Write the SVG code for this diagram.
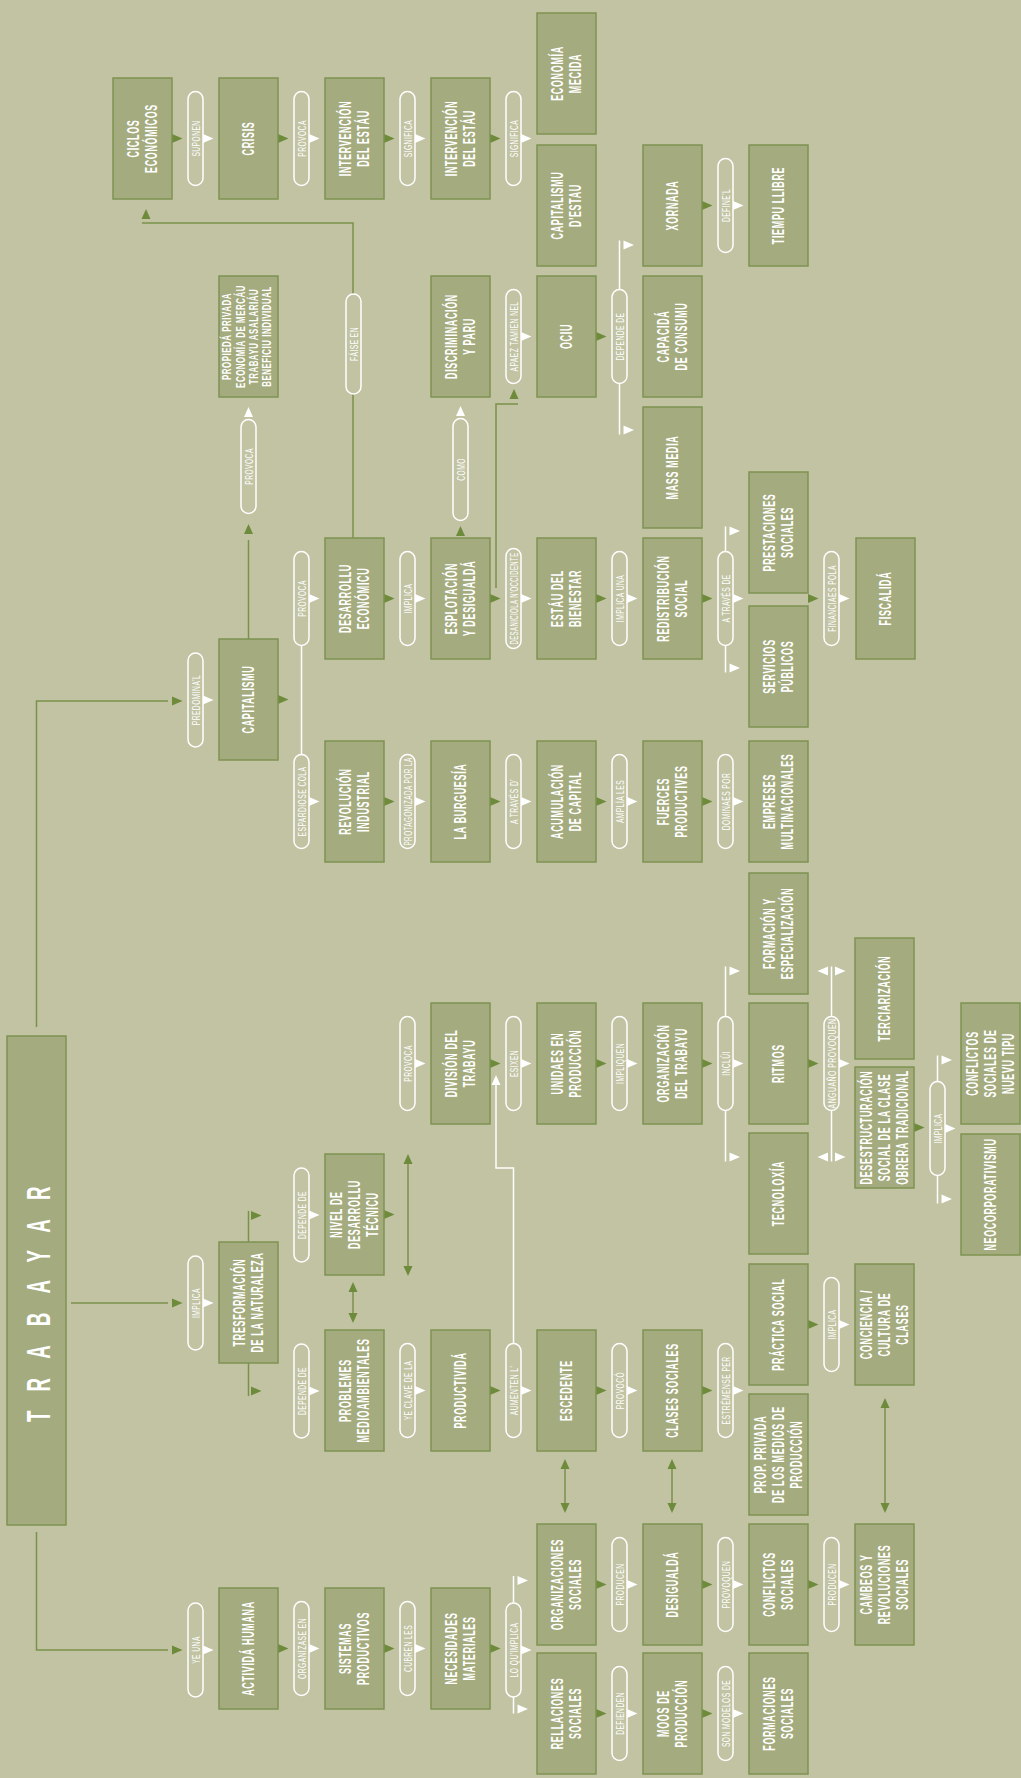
<svg xmlns="http://www.w3.org/2000/svg" width="1021" height="1778" viewBox="0 0 1021 1778">
<defs>
<style>
.bx{fill:#A4AB7E;stroke:#7E9352;stroke-width:1.5}
.bt{font-family:'Liberation Sans',Arial,sans-serif;font-weight:bold;font-size:16px;fill:#fff;letter-spacing:1.2px;text-anchor:middle}
.bs{font-size:12px;letter-spacing:0.8px}
.tt{font-family:'Liberation Sans',Arial,sans-serif;font-weight:bold;font-size:34px;fill:#fff}
.pl{fill:#C1C3A3;stroke:#fff;stroke-width:1.5}
.pt{font-family:'Liberation Sans',Arial,sans-serif;font-size:11.5px;fill:#fff;letter-spacing:0.8px;text-anchor:middle}
.gl{fill:none;stroke:#7B914B;stroke-width:1.5}
.wl{fill:none;stroke:#fff;stroke-width:1.5}
.gt{fill:#6E8B3B}
.wt{fill:#fff}
</style>
<path id="tr" d="M0,-4.5L10.5,0L0,4.5Z"/>
<path id="tl" d="M0,-4.5L-10.5,0L0,4.5Z"/>
<path id="tu" d="M-4.5,0L0,-10L4.5,0Z"/>
<path id="td" d="M-4.5,0L0,10L4.5,0Z"/>
</defs>
<rect x="0" y="0" width="1021" height="1778" fill="#C1C3A3"/>

<g id="connectors">
<g id="lines">
<path class="gl" d="M36.5,1027V701H168"/>
<path class="gl" d="M71,1303H168"/>
<path class="gl" d="M36.5,1532V1650H168"/>
<path class="gl" d="M248.5,639V540"/>
<path class="gl" d="M353,538V223H142"/>
<path class="gl" d="M496,588V404H518"/>
<path class="gl" d="M248.5,1242V1211"/>
<path class="gl" d="M248.5,1363V1396"/>
<path class="gl" d="M408,1164V1266"/>
<path class="gl" d="M353,1292V1313"/>
<path class="gl" d="M565,1469V1503"/>
<path class="gl" d="M672,1469V1503"/>
<path class="gl" d="M885,1408V1503"/>
<path class="wl" d="M301.5,646V755"/>
<path class="wl" d="M513.5,1344V1168H496V1085"/>
<path class="wl" d="M619.5,240.5V434.5"/>
<path class="wl" d="M725.5,526.5V672.5"/>
<path class="wl" d="M725.5,966.5V1161.5"/>
<path class="wl" d="M831.5,966.5V1161.5"/>
<path class="wl" d="M937.5,1055.5V1203.5"/>
<path class="wl" d="M513.5,1576V1713.5"/>
</g>
<g id="pills">
<rect class="pl" x="188" y="91.5" width="15" height="94" rx="7.5"/>
<rect class="pl" x="294" y="91.5" width="15" height="94" rx="7.5"/>
<rect class="pl" x="400" y="91.5" width="15" height="94" rx="7.5"/>
<rect class="pl" x="506" y="91.5" width="15" height="94" rx="7.5"/>
<rect class="pl" x="718" y="158.5" width="15" height="94" rx="7.5"/>
<rect class="pl" x="506" y="289.5" width="15" height="94" rx="7.5"/>
<rect class="pl" x="612" y="289.5" width="15" height="94" rx="7.5"/>
<rect class="pl" x="294" y="551.5" width="15" height="94" rx="7.5"/>
<rect class="pl" x="400" y="551.5" width="15" height="94" rx="7.5"/>
<rect class="pl" x="506" y="548.5" width="15" height="100" rx="7.5"/>
<rect class="pl" x="612" y="551.5" width="15" height="94" rx="7.5"/>
<rect class="pl" x="718" y="551.5" width="15" height="94" rx="7.5"/>
<rect class="pl" x="824" y="551.5" width="15" height="94" rx="7.5"/>
<rect class="pl" x="188" y="653" width="15" height="94" rx="7.5"/>
<rect class="pl" x="294" y="754.5" width="15" height="94" rx="7.5"/>
<rect class="pl" x="400" y="754.5" width="15" height="94" rx="7.5"/>
<rect class="pl" x="506" y="754.5" width="15" height="94" rx="7.5"/>
<rect class="pl" x="612" y="754.5" width="15" height="94" rx="7.5"/>
<rect class="pl" x="718" y="754.5" width="15" height="94" rx="7.5"/>
<rect class="pl" x="400" y="1016.5" width="15" height="94" rx="7.5"/>
<rect class="pl" x="506" y="1016.5" width="15" height="94" rx="7.5"/>
<rect class="pl" x="612" y="1016.5" width="15" height="94" rx="7.5"/>
<rect class="pl" x="718" y="1016.5" width="15" height="94" rx="7.5"/>
<rect class="pl" x="824" y="1016.5" width="15" height="94" rx="7.5"/>
<rect class="pl" x="930" y="1081.5" width="15" height="94" rx="7.5"/>
<rect class="pl" x="294" y="1168" width="15" height="94" rx="7.5"/>
<rect class="pl" x="188" y="1256" width="15" height="94" rx="7.5"/>
<rect class="pl" x="824" y="1277.5" width="15" height="94" rx="7.5"/>
<rect class="pl" x="294" y="1344" width="15" height="94" rx="7.5"/>
<rect class="pl" x="400" y="1343.5" width="15" height="94" rx="7.5"/>
<rect class="pl" x="506" y="1343.5" width="15" height="94" rx="7.5"/>
<rect class="pl" x="612" y="1343.5" width="15" height="94" rx="7.5"/>
<rect class="pl" x="718" y="1343.5" width="15" height="94" rx="7.5"/>
<rect class="pl" x="612" y="1537.5" width="15" height="94" rx="7.5"/>
<rect class="pl" x="718" y="1537.5" width="15" height="94" rx="7.5"/>
<rect class="pl" x="824" y="1537.5" width="15" height="94" rx="7.5"/>
<rect class="pl" x="188" y="1603" width="15" height="94" rx="7.5"/>
<rect class="pl" x="294" y="1601.5" width="15" height="94" rx="7.5"/>
<rect class="pl" x="400" y="1601.5" width="15" height="94" rx="7.5"/>
<rect class="pl" x="506" y="1603" width="15" height="94" rx="7.5"/>
<rect class="pl" x="612" y="1666.5" width="15" height="94" rx="7.5"/>
<rect class="pl" x="718" y="1666.5" width="15" height="94" rx="7.5"/>
<rect class="pl" x="241" y="419.5" width="15" height="94" rx="7.5"/>
<rect class="pl" x="453" y="418.5" width="15" height="102" rx="7.5"/>
<rect class="pl" x="346" y="294" width="15" height="100" rx="7.5"/>
</g>
<g id="labels">
<text class="pt" transform="translate(199.6,138.5) rotate(-90) scale(0.58,1)">SUPONEN</text>
<text class="pt" transform="translate(305.6,138.5) rotate(-90) scale(0.58,1)">PROVOCA</text>
<text class="pt" transform="translate(411.6,138.5) rotate(-90) scale(0.58,1)">SIGNIFICA</text>
<text class="pt" transform="translate(517.6,138.5) rotate(-90) scale(0.58,1)">SIGNIFICA</text>
<text class="pt" transform="translate(729.6,205.5) rotate(-90) scale(0.58,1)">DEFINE'L</text>
<text class="pt" transform="translate(517.6,336.5) rotate(-90) scale(0.58,1)">APAEZ TAMIEN NEL</text>
<text class="pt" transform="translate(623.6,336.5) rotate(-90) scale(0.58,1)">DEPENDE DE</text>
<text class="pt" transform="translate(305.6,598.5) rotate(-90) scale(0.58,1)">PROVOCA</text>
<text class="pt" transform="translate(411.6,598.5) rotate(-90) scale(0.58,1)">IMPLICA</text>
<text class="pt" transform="translate(517.6,598.5) rotate(-90) scale(0.58,1)" textLength="159" lengthAdjust="spacingAndGlyphs">DESANICIOLA N'OCCIDENTE</text>
<text class="pt" transform="translate(623.6,598.5) rotate(-90) scale(0.58,1)">IMPLICA UNA</text>
<text class="pt" transform="translate(729.6,598.5) rotate(-90) scale(0.58,1)">A TRAVÉS DE</text>
<text class="pt" transform="translate(835.6,598.5) rotate(-90) scale(0.58,1)">FINANCIAES POLA</text>
<text class="pt" transform="translate(199.6,700) rotate(-90) scale(0.58,1)">PREDOMINA'L</text>
<text class="pt" transform="translate(305.6,801.5) rotate(-90) scale(0.58,1)">ESPARDIOSE COLA</text>
<text class="pt" transform="translate(411.6,801.5) rotate(-90) scale(0.58,1)" textLength="152" lengthAdjust="spacingAndGlyphs">PROTAGONIZADA POR LA</text>
<text class="pt" transform="translate(517.6,801.5) rotate(-90) scale(0.58,1)">A TRAVÉS D'</text>
<text class="pt" transform="translate(623.6,801.5) rotate(-90) scale(0.58,1)">AMPLÍA LES</text>
<text class="pt" transform="translate(729.6,801.5) rotate(-90) scale(0.58,1)">DOMINAES POR</text>
<text class="pt" transform="translate(411.6,1063.5) rotate(-90) scale(0.58,1)">PROVOCA</text>
<text class="pt" transform="translate(517.6,1063.5) rotate(-90) scale(0.58,1)">ESIXEN</text>
<text class="pt" transform="translate(623.6,1063.5) rotate(-90) scale(0.58,1)">IMPLIQUEN</text>
<text class="pt" transform="translate(729.6,1063.5) rotate(-90) scale(0.58,1)">INCLÚI</text>
<text class="pt" transform="translate(835.6,1063.5) rotate(-90) scale(0.58,1)" textLength="155" lengthAdjust="spacingAndGlyphs">ANGUAÑO PROVOQUEN</text>
<text class="pt" transform="translate(941.6,1128.5) rotate(-90) scale(0.58,1)">IMPLICA</text>
<text class="pt" transform="translate(305.6,1215) rotate(-90) scale(0.58,1)">DEPENDE DE</text>
<text class="pt" transform="translate(199.6,1303) rotate(-90) scale(0.58,1)">IMPLICA</text>
<text class="pt" transform="translate(835.6,1324.5) rotate(-90) scale(0.58,1)">IMPLICA</text>
<text class="pt" transform="translate(305.6,1391) rotate(-90) scale(0.58,1)">DEPENDE DE</text>
<text class="pt" transform="translate(411.6,1390.5) rotate(-90) scale(0.58,1)">YE CLAVE DE LA</text>
<text class="pt" transform="translate(517.6,1390.5) rotate(-90) scale(0.58,1)">AUMENTEN L'</text>
<text class="pt" transform="translate(623.6,1390.5) rotate(-90) scale(0.58,1)">PROVOCÓ</text>
<text class="pt" transform="translate(729.6,1390.5) rotate(-90) scale(0.58,1)">ESTRÉMENSE PER</text>
<text class="pt" transform="translate(623.6,1584.5) rotate(-90) scale(0.58,1)">PRODUCEN</text>
<text class="pt" transform="translate(729.6,1584.5) rotate(-90) scale(0.58,1)">PROVOQUEN</text>
<text class="pt" transform="translate(835.6,1584.5) rotate(-90) scale(0.58,1)">PRODUCEN</text>
<text class="pt" transform="translate(199.6,1650) rotate(-90) scale(0.58,1)">YE UNA</text>
<text class="pt" transform="translate(305.6,1648.5) rotate(-90) scale(0.58,1)">ORGANÍZASE EN</text>
<text class="pt" transform="translate(411.6,1648.5) rotate(-90) scale(0.58,1)">CUBREN LES</text>
<text class="pt" transform="translate(517.6,1650) rotate(-90) scale(0.58,1)">LO QU'IMPLICA</text>
<text class="pt" transform="translate(623.6,1713.5) rotate(-90) scale(0.58,1)">DEFIENDEN</text>
<text class="pt" transform="translate(729.6,1713.5) rotate(-90) scale(0.58,1)">SON MODELOS DE</text>
<text class="pt" transform="translate(252.6,466.5) rotate(-90) scale(0.58,1)">PROVOCA</text>
<text class="pt" transform="translate(464.6,469.5) rotate(-90) scale(0.58,1)">COMO</text>
<text class="pt" transform="translate(357.6,344) rotate(-90) scale(0.58,1)">FÁISE EN</text>
</g>
<g id="arrowheads">
<use href="#tr" class="gt" x="172" y="138.5"/>
<use href="#tr" class="gt" x="278" y="138.5"/>
<use href="#tr" class="gt" x="384" y="138.5"/>
<use href="#tr" class="gt" x="490" y="138.5"/>
<use href="#tr" class="gt" x="702" y="205.5"/>
<use href="#tr" class="gt" x="596" y="336.5"/>
<use href="#tr" class="gt" x="384" y="598.5"/>
<use href="#tr" class="gt" x="490" y="598.5"/>
<use href="#tr" class="gt" x="596" y="598.5"/>
<use href="#tr" class="gt" x="702" y="598.5"/>
<use href="#tr" class="gt" x="808" y="598.5"/>
<use href="#tr" class="gt" x="278" y="699.5"/>
<use href="#tr" class="gt" x="172" y="701"/>
<use href="#tr" class="gt" x="384" y="801.5"/>
<use href="#tr" class="gt" x="490" y="801.5"/>
<use href="#tr" class="gt" x="596" y="801.5"/>
<use href="#tr" class="gt" x="702" y="801.5"/>
<use href="#tr" class="gt" x="490" y="1063.5"/>
<use href="#tr" class="gt" x="596" y="1063.5"/>
<use href="#tr" class="gt" x="702" y="1063.5"/>
<use href="#tr" class="gt" x="808" y="1063.5"/>
<use href="#tr" class="gt" x="914" y="1127.5"/>
<use href="#tr" class="gt" x="384" y="1214.5"/>
<use href="#tr" class="gt" x="172" y="1303"/>
<use href="#tr" class="gt" x="490" y="1390.5"/>
<use href="#tr" class="gt" x="596" y="1390.5"/>
<use href="#tr" class="gt" x="702" y="1390.5"/>
<use href="#tr" class="gt" x="808" y="1324.5"/>
<use href="#tr" class="gt" x="172" y="1650"/>
<use href="#tr" class="gt" x="278" y="1648.5"/>
<use href="#tr" class="gt" x="384" y="1648.5"/>
<use href="#tr" class="gt" x="490" y="1648.5"/>
<use href="#tr" class="gt" x="596" y="1584.5"/>
<use href="#tr" class="gt" x="702" y="1584.5"/>
<use href="#tr" class="gt" x="808" y="1584.5"/>
<use href="#tr" class="gt" x="596" y="1713.5"/>
<use href="#tr" class="gt" x="702" y="1713.5"/>
<use href="#tr" class="gt" x="251" y="1215.5"/>
<use href="#tr" class="gt" x="251" y="1391"/>
<use href="#tu" class="gt" x="248.5" y="534"/>
<use href="#tu" class="gt" x="146" y="219"/>
<use href="#tu" class="gt" x="514" y="399"/>
<use href="#tu" class="gt" x="460.5" y="536"/>
<use href="#tu" class="gt" x="408" y="1164"/>
<use href="#td" class="gt" x="408" y="1266"/>
<use href="#tu" class="gt" x="353" y="1292"/>
<use href="#td" class="gt" x="353" y="1313"/>
<use href="#tu" class="gt" x="565" y="1469"/>
<use href="#td" class="gt" x="565" y="1503"/>
<use href="#tu" class="gt" x="672" y="1469"/>
<use href="#td" class="gt" x="672" y="1503"/>
<use href="#tu" class="gt" x="885" y="1408"/>
<use href="#td" class="gt" x="885" y="1503"/>

<use href="#tr" class="wt" x="203" y="138.5"/>
<use href="#tr" class="wt" x="309" y="138.5"/>
<use href="#tr" class="wt" x="415" y="138.5"/>
<use href="#tr" class="wt" x="521" y="138.5"/>
<use href="#tr" class="wt" x="733" y="205.5"/>
<use href="#tr" class="wt" x="521" y="336.5"/>
<use href="#tr" class="wt" x="623.5" y="245"/>
<use href="#tr" class="wt" x="623.5" y="430"/>
<use href="#tr" class="wt" x="309" y="598.5"/>
<use href="#tr" class="wt" x="415" y="598.5"/>
<use href="#tr" class="wt" x="521" y="598.5"/>
<use href="#tr" class="wt" x="627" y="598.5"/>
<use href="#tr" class="wt" x="733" y="598.5"/>
<use href="#tr" class="wt" x="729.5" y="531"/>
<use href="#tr" class="wt" x="729.5" y="668"/>
<use href="#tr" class="wt" x="839" y="598.5"/>
<use href="#tr" class="wt" x="203" y="700"/>
<use href="#tr" class="wt" x="309" y="801.5"/>
<use href="#tr" class="wt" x="415" y="801.5"/>
<use href="#tr" class="wt" x="521" y="801.5"/>
<use href="#tr" class="wt" x="627" y="801.5"/>
<use href="#tr" class="wt" x="733" y="801.5"/>
<use href="#tr" class="wt" x="415" y="1063.5"/>
<use href="#tr" class="wt" x="521" y="1063.5"/>
<use href="#tr" class="wt" x="627" y="1063.5"/>
<use href="#tr" class="wt" x="733" y="1063.5"/>
<use href="#tr" class="wt" x="729.5" y="971"/>
<use href="#tr" class="wt" x="729.5" y="1157"/>
<use href="#tr" class="wt" x="839" y="1063.5"/>
<use href="#tr" class="wt" x="835" y="971"/>
<use href="#tr" class="wt" x="835" y="1157"/>
<use href="#tl" class="wt" x="828" y="971"/>
<use href="#tl" class="wt" x="828" y="1157"/>
<use href="#tr" class="wt" x="945" y="1128.5"/>
<use href="#tr" class="wt" x="941.5" y="1060"/>
<use href="#tr" class="wt" x="941.5" y="1199"/>
<use href="#tr" class="wt" x="309" y="1215"/>
<use href="#tr" class="wt" x="203" y="1303"/>
<use href="#tr" class="wt" x="839" y="1324.5"/>
<use href="#tr" class="wt" x="309" y="1391"/>
<use href="#tr" class="wt" x="415" y="1390.5"/>
<use href="#tr" class="wt" x="521" y="1390.5"/>
<use href="#tr" class="wt" x="627" y="1390.5"/>
<use href="#tr" class="wt" x="733" y="1390.5"/>
<use href="#tr" class="wt" x="627" y="1584.5"/>
<use href="#tr" class="wt" x="733" y="1584.5"/>
<use href="#tr" class="wt" x="839" y="1584.5"/>
<use href="#tr" class="wt" x="203" y="1650"/>
<use href="#tr" class="wt" x="309" y="1648.5"/>
<use href="#tr" class="wt" x="415" y="1648.5"/>
<use href="#tr" class="wt" x="521" y="1650"/>
<use href="#tr" class="wt" x="517.5" y="1580.5"/>
<use href="#tr" class="wt" x="517.5" y="1709"/>
<use href="#tr" class="wt" x="627" y="1713.5"/>
<use href="#tr" class="wt" x="733" y="1713.5"/>
<use href="#tu" class="wt" x="248.5" y="417"/>
<use href="#tu" class="wt" x="460.5" y="416"/>
<use href="#tu" class="wt" x="496" y="1085"/>
</g>
</g>

<g id="nodes">
<g id="n_trabayar"><rect class="bx" x="7" y="1036" width="59" height="489"/><text class="tt" transform="translate(49.7,1422) rotate(-90) scale(0.55,1)" letter-spacing="34.8">TRABAYAR</text></g>
<g id="n_ciclos"><rect class="bx" x="113" y="78" width="59" height="121"/><text class="bt" transform="translate(142.5,138.5) rotate(-90) scale(0.56,1)"><tspan x="0" y="-3.3">CICLOS</tspan><tspan x="0" y="14.7">ECONÓMICOS</tspan></text></g>
<g id="n_crisis"><rect class="bx" x="219" y="78" width="59" height="121"/><text class="bt" transform="translate(248.5,138.5) rotate(-90) scale(0.56,1)"><tspan x="0" y="5.7">CRISIS</tspan></text></g>
<g id="n_interv1"><rect class="bx" x="325" y="78" width="59" height="121"/><text class="bt" transform="translate(354.5,138.5) rotate(-90) scale(0.56,1)"><tspan x="0" y="-3.3">INTERVENCIÓN</tspan><tspan x="0" y="14.7">DEL ESTÁU</tspan></text></g>
<g id="n_interv2"><rect class="bx" x="431" y="78" width="59" height="121"/><text class="bt" transform="translate(460.5,138.5) rotate(-90) scale(0.56,1)"><tspan x="0" y="-3.3">INTERVENCIÓN</tspan><tspan x="0" y="14.7">DEL ESTÁU</tspan></text></g>
<g id="n_economia"><rect class="bx" x="537" y="13" width="59" height="121"/><text class="bt" transform="translate(566.5,73.5) rotate(-90) scale(0.56,1)"><tspan x="0" y="-3.3">ECONOMÍA</tspan><tspan x="0" y="14.7">MECIDA</tspan></text></g>
<g id="n_capestau"><rect class="bx" x="537" y="145" width="59" height="121"/><text class="bt" transform="translate(566.5,205.5) rotate(-90) scale(0.56,1)"><tspan x="0" y="-3.3">CAPITALISMU</tspan><tspan x="0" y="14.7">D'ESTAU</tspan></text></g>
<g id="n_xornada"><rect class="bx" x="643" y="145" width="59" height="121"/><text class="bt" transform="translate(672.5,205.5) rotate(-90) scale(0.56,1)"><tspan x="0" y="5.7">XORNADA</tspan></text></g>
<g id="n_tiempu"><rect class="bx" x="749" y="145" width="59" height="121"/><text class="bt" transform="translate(778.5,205.5) rotate(-90) scale(0.56,1)"><tspan x="0" y="5.7">TIEMPU LLIBRE</tspan></text></g>
<g id="n_propieda"><rect class="bx" x="219" y="276" width="59" height="121"/><text class="bt bs" transform="translate(248.5,336.5) rotate(-90) scale(0.66,1)"><tspan x="0" y="-17.2">PROPIEDÁ PRIVADA</tspan><tspan x="0" y="-3.9">ECONOMÍA DE MERCÁU</tspan><tspan x="0" y="9.5">TRABAYU ASALARIÁU</tspan><tspan x="0" y="22.8">BENEFICIU INDIVIDUAL</tspan></text></g>
<g id="n_discrim"><rect class="bx" x="431" y="276" width="59" height="121"/><text class="bt" transform="translate(460.5,336.5) rotate(-90) scale(0.56,1)"><tspan x="0" y="-3.3">DISCRIMINACIÓN</tspan><tspan x="0" y="14.7">Y PARU</tspan></text></g>
<g id="n_ociu"><rect class="bx" x="537" y="276" width="59" height="121"/><text class="bt" transform="translate(566.5,336.5) rotate(-90) scale(0.56,1)"><tspan x="0" y="5.7">OCIU</tspan></text></g>
<g id="n_capacida"><rect class="bx" x="643" y="276" width="59" height="121"/><text class="bt" transform="translate(672.5,336.5) rotate(-90) scale(0.56,1)"><tspan x="0" y="-3.3">CAPACIDÁ</tspan><tspan x="0" y="14.7">DE CONSUMU</tspan></text></g>
<g id="n_massmedia"><rect class="bx" x="643" y="407" width="59" height="121"/><text class="bt" transform="translate(672.5,467.5) rotate(-90) scale(0.56,1)"><tspan x="0" y="5.7">MASS MEDIA</tspan></text></g>
<g id="n_prestaciones"><rect class="bx" x="749" y="472" width="59" height="121"/><text class="bt" transform="translate(778.5,532.5) rotate(-90) scale(0.56,1)"><tspan x="0" y="-3.3">PRESTACIONES</tspan><tspan x="0" y="14.7">SOCIALES</tspan></text></g>
<g id="n_desarrollu"><rect class="bx" x="325" y="538" width="59" height="121"/><text class="bt" transform="translate(354.5,598.5) rotate(-90) scale(0.56,1)"><tspan x="0" y="-3.3">DESARROLLU</tspan><tspan x="0" y="14.7">ECONÓMICU</tspan></text></g>
<g id="n_esplotacion"><rect class="bx" x="431" y="538" width="59" height="121"/><text class="bt" transform="translate(460.5,598.5) rotate(-90) scale(0.56,1)"><tspan x="0" y="-3.3">ESPLOTACIÓN</tspan><tspan x="0" y="14.7">Y DESIGUALDÁ</tspan></text></g>
<g id="n_estau"><rect class="bx" x="537" y="538" width="59" height="121"/><text class="bt" transform="translate(566.5,598.5) rotate(-90) scale(0.56,1)"><tspan x="0" y="-3.3">ESTÁU DEL</tspan><tspan x="0" y="14.7">BIENESTAR</tspan></text></g>
<g id="n_redistribucion"><rect class="bx" x="643" y="538" width="59" height="121"/><text class="bt" transform="translate(672.5,598.5) rotate(-90) scale(0.56,1)"><tspan x="0" y="-3.3">REDISTRIBUCIÓN</tspan><tspan x="0" y="14.7">SOCIAL</tspan></text></g>
<g id="n_fiscalida"><rect class="bx" x="856" y="538" width="59" height="121"/><text class="bt" transform="translate(885.5,598.5) rotate(-90) scale(0.56,1)"><tspan x="0" y="5.7">FISCALIDÁ</tspan></text></g>
<g id="n_servicios"><rect class="bx" x="749" y="606" width="59" height="121"/><text class="bt" transform="translate(778.5,666.5) rotate(-90) scale(0.56,1)"><tspan x="0" y="-3.3">SERVICIOS</tspan><tspan x="0" y="14.7">PÚBLICOS</tspan></text></g>
<g id="n_capitalismu"><rect class="bx" x="219" y="639" width="59" height="121"/><text class="bt" transform="translate(248.5,699.5) rotate(-90) scale(0.56,1)"><tspan x="0" y="5.7">CAPITALISMU</tspan></text></g>
<g id="n_revolucion"><rect class="bx" x="325" y="741" width="59" height="121"/><text class="bt" transform="translate(354.5,801.5) rotate(-90) scale(0.56,1)"><tspan x="0" y="-3.3">REVOLUCIÓN</tspan><tspan x="0" y="14.7">INDUSTRIAL</tspan></text></g>
<g id="n_burguesia"><rect class="bx" x="431" y="741" width="59" height="121"/><text class="bt" transform="translate(460.5,801.5) rotate(-90) scale(0.56,1)"><tspan x="0" y="5.7">LA BURGUESÍA</tspan></text></g>
<g id="n_acumulacion"><rect class="bx" x="537" y="741" width="59" height="121"/><text class="bt" transform="translate(566.5,801.5) rotate(-90) scale(0.56,1)"><tspan x="0" y="-3.3">ACUMULACIÓN</tspan><tspan x="0" y="14.7">DE CAPITAL</tspan></text></g>
<g id="n_fuerces"><rect class="bx" x="643" y="741" width="59" height="121"/><text class="bt" transform="translate(672.5,801.5) rotate(-90) scale(0.56,1)"><tspan x="0" y="-3.3">FUERCES</tspan><tspan x="0" y="14.7">PRODUCTIVES</tspan></text></g>
<g id="n_empreses"><rect class="bx" x="749" y="741" width="59" height="121"/><text class="bt" transform="translate(778.5,801.5) rotate(-90) scale(0.56,1)"><tspan x="0" y="-3.3">EMPRESES</tspan><tspan x="0" y="14.7">MULTINACIONALES</tspan></text></g>
<g id="n_formacion"><rect class="bx" x="749" y="873" width="59" height="121"/><text class="bt" transform="translate(778.5,933.5) rotate(-90) scale(0.56,1)"><tspan x="0" y="-3.3">FORMACIÓN Y</tspan><tspan x="0" y="14.7">ESPECIALIZACIÓN</tspan></text></g>
<g id="n_terciarizacion"><rect class="bx" x="855" y="938" width="59" height="121"/><text class="bt" transform="translate(884.5,998.5) rotate(-90) scale(0.56,1)"><tspan x="0" y="5.7">TERCIARIZACIÓN</tspan></text></g>
<g id="n_division"><rect class="bx" x="431" y="1003" width="59" height="121"/><text class="bt" transform="translate(460.5,1063.5) rotate(-90) scale(0.56,1)"><tspan x="0" y="-3.3">DIVISIÓN DEL</tspan><tspan x="0" y="14.7">TRABAYU</tspan></text></g>
<g id="n_unidaes"><rect class="bx" x="537" y="1003" width="59" height="121"/><text class="bt" transform="translate(566.5,1063.5) rotate(-90) scale(0.56,1)"><tspan x="0" y="-3.3">UNIDAES EN</tspan><tspan x="0" y="14.7">PRODUCCIÓN</tspan></text></g>
<g id="n_organizacion"><rect class="bx" x="643" y="1003" width="59" height="121"/><text class="bt" transform="translate(672.5,1063.5) rotate(-90) scale(0.56,1)"><tspan x="0" y="-3.3">ORGANIZACIÓN</tspan><tspan x="0" y="14.7">DEL TRABAYU</tspan></text></g>
<g id="n_ritmos"><rect class="bx" x="749" y="1003" width="59" height="121"/><text class="bt" transform="translate(778.5,1063.5) rotate(-90) scale(0.56,1)"><tspan x="0" y="5.7">RITMOS</tspan></text></g>
<g id="n_conflnuevu"><rect class="bx" x="961" y="1003" width="59" height="121"/><text class="bt" transform="translate(990.5,1063.5) rotate(-90) scale(0.56,1)"><tspan x="0" y="-12.3">CONFLICTOS</tspan><tspan x="0" y="5.7">SOCIALES DE</tspan><tspan x="0" y="23.7">NUEVU TIPU</tspan></text></g>
<g id="n_desestructuracion"><rect class="bx" x="855" y="1067" width="59" height="121"/><text class="bt" transform="translate(884.5,1127.5) rotate(-90) scale(0.56,1)"><tspan x="0" y="-12.3">DESESTRUCTURACIÓN</tspan><tspan x="0" y="5.7">SOCIAL DE LA CLASE</tspan><tspan x="0" y="23.7">OBRERA TRADICIONAL</tspan></text></g>
<g id="n_tecnoloxia"><rect class="bx" x="749" y="1133" width="59" height="121"/><text class="bt" transform="translate(778.5,1193.5) rotate(-90) scale(0.56,1)"><tspan x="0" y="5.7">TECNOLOXÍA</tspan></text></g>
<g id="n_neocorp"><rect class="bx" x="961" y="1134" width="59" height="121"/><text class="bt" transform="translate(990.5,1194.5) rotate(-90) scale(0.56,1)"><tspan x="0" y="5.7">NEOCORPORATIVISMU</tspan></text></g>
<g id="n_nivel"><rect class="bx" x="325" y="1154" width="59" height="121"/><text class="bt" transform="translate(354.5,1214.5) rotate(-90) scale(0.56,1)"><tspan x="0" y="-12.3">NIVEL DE</tspan><tspan x="0" y="5.7">DESARROLLU</tspan><tspan x="0" y="23.7">TÉCNICU</tspan></text></g>
<g id="n_tresformacion"><rect class="bx" x="219" y="1242" width="59" height="121"/><text class="bt" transform="translate(248.5,1302.5) rotate(-90) scale(0.56,1)"><tspan x="0" y="-3.3">TRESFORMACIÓN</tspan><tspan x="0" y="14.7">DE LA NATURALEZA</tspan></text></g>
<g id="n_practica"><rect class="bx" x="749" y="1264" width="59" height="121"/><text class="bt" transform="translate(778.5,1324.5) rotate(-90) scale(0.56,1)"><tspan x="0" y="5.7">PRÁCTICA SOCIAL</tspan></text></g>
<g id="n_conciencia"><rect class="bx" x="855" y="1264" width="59" height="121"/><text class="bt" transform="translate(884.5,1324.5) rotate(-90) scale(0.56,1)"><tspan x="0" y="-12.3">CONCIENCIA /</tspan><tspan x="0" y="5.7">CULTURA DE</tspan><tspan x="0" y="23.7">CLASES</tspan></text></g>
<g id="n_problemes"><rect class="bx" x="325" y="1330" width="59" height="121"/><text class="bt" transform="translate(354.5,1390.5) rotate(-90) scale(0.56,1)"><tspan x="0" y="-3.3">PROBLEMES</tspan><tspan x="0" y="14.7">MEDIOAMBIENTALES</tspan></text></g>
<g id="n_productivida"><rect class="bx" x="431" y="1330" width="59" height="121"/><text class="bt" transform="translate(460.5,1390.5) rotate(-90) scale(0.56,1)"><tspan x="0" y="5.7">PRODUCTIVIDÁ</tspan></text></g>
<g id="n_escedente"><rect class="bx" x="537" y="1330" width="59" height="121"/><text class="bt" transform="translate(566.5,1390.5) rotate(-90) scale(0.56,1)"><tspan x="0" y="5.7">ESCEDENTE</tspan></text></g>
<g id="n_clases"><rect class="bx" x="643" y="1330" width="59" height="121"/><text class="bt" transform="translate(672.5,1390.5) rotate(-90) scale(0.56,1)"><tspan x="0" y="5.7">CLASES SOCIALES</tspan></text></g>
<g id="n_propprivada"><rect class="bx" x="749" y="1394" width="59" height="121"/><text class="bt" transform="translate(778.5,1454.5) rotate(-90) scale(0.56,1)"><tspan x="0" y="-12.3">PROP. PRIVADA</tspan><tspan x="0" y="5.7">DE LOS MEDIOS DE</tspan><tspan x="0" y="23.7">PRODUCCIÓN</tspan></text></g>
<g id="n_organizaciones"><rect class="bx" x="537" y="1524" width="59" height="121"/><text class="bt" transform="translate(566.5,1584.5) rotate(-90) scale(0.56,1)"><tspan x="0" y="-3.3">ORGANIZACIONES</tspan><tspan x="0" y="14.7">SOCIALES</tspan></text></g>
<g id="n_desigualda"><rect class="bx" x="643" y="1524" width="59" height="121"/><text class="bt" transform="translate(672.5,1584.5) rotate(-90) scale(0.56,1)"><tspan x="0" y="5.7">DESIGUALDÁ</tspan></text></g>
<g id="n_conflictos"><rect class="bx" x="749" y="1524" width="59" height="121"/><text class="bt" transform="translate(778.5,1584.5) rotate(-90) scale(0.56,1)"><tspan x="0" y="-3.3">CONFLICTOS</tspan><tspan x="0" y="14.7">SOCIALES</tspan></text></g>
<g id="n_cambeos"><rect class="bx" x="855" y="1524" width="59" height="121"/><text class="bt" transform="translate(884.5,1584.5) rotate(-90) scale(0.56,1)"><tspan x="0" y="-12.3">CAMBEOS Y</tspan><tspan x="0" y="5.7">REVOLUCIONES</tspan><tspan x="0" y="23.7">SOCIALES</tspan></text></g>
<g id="n_actividad"><rect class="bx" x="219" y="1588" width="59" height="121"/><text class="bt" transform="translate(248.5,1648.5) rotate(-90) scale(0.56,1)"><tspan x="0" y="5.7">ACTIVIDÁ HUMANA</tspan></text></g>
<g id="n_sistemas"><rect class="bx" x="325" y="1588" width="59" height="121"/><text class="bt" transform="translate(354.5,1648.5) rotate(-90) scale(0.56,1)"><tspan x="0" y="-3.3">SISTEMAS</tspan><tspan x="0" y="14.7">PRODUCTIVOS</tspan></text></g>
<g id="n_necesidades"><rect class="bx" x="431" y="1588" width="59" height="121"/><text class="bt" transform="translate(460.5,1648.5) rotate(-90) scale(0.56,1)"><tspan x="0" y="-3.3">NECESIDADES</tspan><tspan x="0" y="14.7">MATERIALES</tspan></text></g>
<g id="n_rellaciones"><rect class="bx" x="537" y="1653" width="59" height="121"/><text class="bt" transform="translate(566.5,1713.5) rotate(-90) scale(0.56,1)"><tspan x="0" y="-3.3">RELLACIONES</tspan><tspan x="0" y="14.7">SOCIALES</tspan></text></g>
<g id="n_moos"><rect class="bx" x="643" y="1653" width="59" height="121"/><text class="bt" transform="translate(672.5,1713.5) rotate(-90) scale(0.56,1)"><tspan x="0" y="-3.3">MOOS DE</tspan><tspan x="0" y="14.7">PRODUCCIÓN</tspan></text></g>
<g id="n_formaciones"><rect class="bx" x="749" y="1653" width="59" height="121"/><text class="bt" transform="translate(778.5,1713.5) rotate(-90) scale(0.56,1)"><tspan x="0" y="-3.3">FORMACIONES</tspan><tspan x="0" y="14.7">SOCIALES</tspan></text></g>
</g>
</svg>
